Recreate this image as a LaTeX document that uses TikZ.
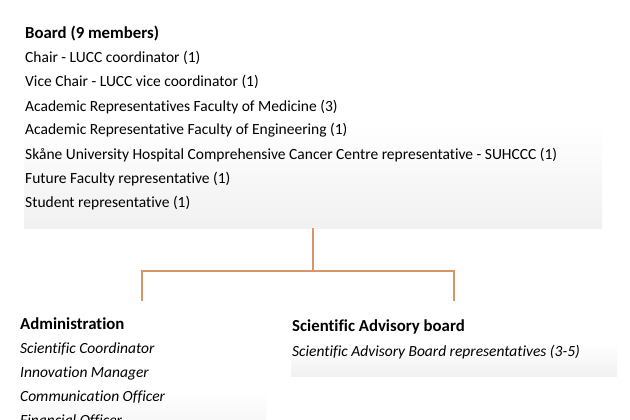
\documentclass[tikz,border=0pt]{standalone}
\usepackage{fontspec}
\setmainfont{Carlito}[Ligatures={NoCommon}]
\definecolor{conn}{HTML}{D9956A}
\definecolor{fadegray}{HTML}{E2E2E2}
\pgfdeclareverticalshading{boxfade}{100bp}{color(0bp)=(fadegray); color(50bp)=(white); color(100bp)=(white)}
\tikzset{
  head/.style={anchor=base west, inner sep=0pt, font=\fontsize{16.8}{19}\selectfont\bfseries},
  item/.style={anchor=base west, inner sep=0pt, font=\fontsize{15.5}{18}\selectfont},
  itemi/.style={item, font=\fontsize{15.5}{18}\selectfont\itshape},
  conline/.style={draw=conn, line width=1.3pt},
}
\begin{document}
\begin{tikzpicture}[x=1pt,y=-1pt]
\useasboundingbox (0,0) rectangle (630,420);
\clip (0,0) rectangle (630,420);
% boxes
\shade[shading=boxfade] (24,20) rectangle (602,228);
\shade[shading=boxfade] (20,330) rectangle (266,450);
\shade[shading=boxfade] (291,310) rectangle (617,376);
% board
\node[head] (bh) at (25,39) {Board (9 members)};
\node[item] (b1) at (25,63) {Chair - LUCC coordinator (1)};
\node[item] (b2) at (25,87) {Vice Chair - LUCC vice coordinator (1)};
\node[item] (b3) at (25,111) {Academic Representatives Faculty of Medicine (3)};
\node[item] (b4) at (25,135) {Academic Representative Faculty of Engineering (1)};
\node[item] (b5) at (25,159) {Skåne University Hospital Comprehensive Cancer Centre representative - SUHCCC (1)};
\node[item] (b6) at (25,183) {Future Faculty representative (1)};
\node[item] (b7) at (25,207) {Student representative (1)};
% administration
\node[head] (ah) at (20,329.5) {Administration};
\node[itemi] (a1) at (20,353.5) {Scientific Coordinator};
\node[itemi] (a2) at (20,377.5) {Innovation Manager};
\node[itemi] (a3) at (20,401.5) {Communication Officer};
\node[itemi] (a4) at (20,425.5) {Financial Officer};
% scientific advisory board
\node[head] (sh) at (292,331) {Scientific Advisory board};
\node[itemi] (s1) at (292,356) {Scientific Advisory Board representatives (3-5)};
% connectors
\coordinate (top) at (313,228);
\coordinate (mid) at (313,271);
\coordinate (l) at (142,271);
\coordinate (r) at (454,271);
\coordinate (ld) at (142,301);
\coordinate (rd) at (454,301);
\draw[conline] (top) -- (mid);
\draw[conline] (ld) -- (l) -- (r) -- (rd);
\end{tikzpicture}
\end{document}
